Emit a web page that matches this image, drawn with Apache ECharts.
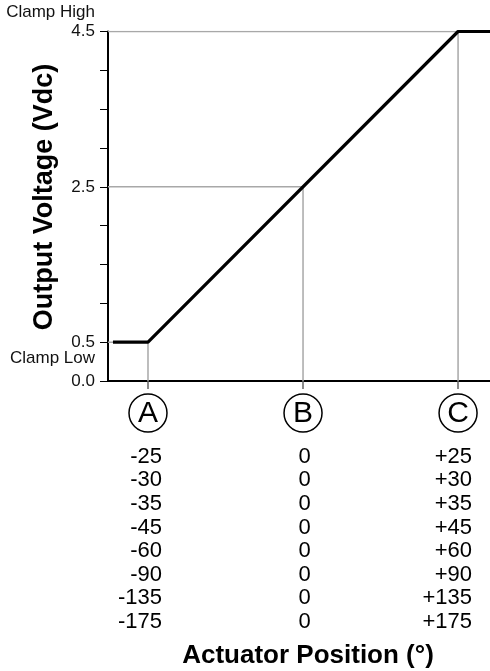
<!DOCTYPE html>
<html>
<head>
<meta charset="utf-8">
<script src="https://cdn.jsdelivr.net/npm/echarts@6/dist/echarts.min.js"></script>
<style>
html,body{margin:0;padding:0;background:#fff;}
#chart{width:490px;height:671px;}
</style>
</head>
<body>
<div id="chart"></div>
<script>
// ---- data ----
const xMin = -1.258, xMax = 1.206;
const pointPositions = [-1, 0, 1];
const pointLetters = ['A', 'B', 'C'];
const rowsA = ['-25', '-30', '-35', '-45', '-60', '-90', '-135', '-175'];
const rowsB = ['0', '0', '0', '0', '0', '0', '0', '0'];
const rowsC = ['+25', '+30', '+35', '+45', '+60', '+90', '+135', '+175'];
const yLabelValues = [0, 0.5, 2.5, 4.5];
const outputLine = [[-1.226, 0.5], [-1, 0.5], [1, 4.5], [1.206, 4.5]];
const guideLow = [[xMin, 0.5], [-1, 0.5], [-1, 0]];
const guideMid = [[xMin, 2.5], [0, 2.5], [0, 0]];
const guideHigh = [[xMin, 4.5], [1, 4.5], [1, 0]];
const yTitle = 'Output Voltage (Vdc)';
const xTitle = 'Actuator Position (°)';
const clampHigh = 'Clamp High';
const clampLow = 'Clamp Low';

const FONT = '"Liberation Sans", Arial, Helvetica, sans-serif';
const chart = echarts.init(document.getElementById('chart'), null, {renderer: 'canvas'});

function guide(data) {
  return {
    type: 'line', data: data, symbol: 'none', silent: true, z: 1,
    lineStyle: {color: '#a8a8a8', width: 1.5}, animation: false
  };
}

chart.setOption({
  backgroundColor: '#fff',
  animation: false,
  grid: {left: 108, right: 0, top: 31.5, bottom: 290, containLabel: false},
  xAxis: {
    type: 'value', min: xMin, max: xMax,
    axisLine: {show: true, onZero: false, lineStyle: {color: '#000', width: 2}},
    axisTick: {show: true, customValues: pointPositions, length: 8, lineStyle: {color: '#666', width: 1.5}},
    axisLabel: {show: false},
    splitLine: {show: false}
  },
  yAxis: {
    type: 'value', min: 0, max: 4.5, interval: 0.5,
    axisLine: {show: true, onZero: false, lineStyle: {color: '#000', width: 2}},
    axisTick: {show: true, length: 8, lineStyle: {color: '#000', width: 1}},
    axisLabel: {
      show: true, margin: 13, color: '#111', fontSize: 17, fontFamily: FONT,
      formatter: function (v) {
        for (const t of yLabelValues) if (Math.abs(t - v) < 1e-6) return v.toFixed(1);
        return '';
      }
    },
    splitLine: {show: false}
  },
  series: [
    guide(guideLow), guide(guideMid), guide(guideHigh),
    {
      type: 'line', data: outputLine, symbol: 'none', z: 5,
      lineStyle: {color: '#000', width: 3.2}
    }
  ]
});

const g = [];
const axisY = chart.convertToPixel({gridIndex: 0}, [0, 0])[1];
const rowH = 23.6;
pointPositions.forEach(function (p, i) {
  const px = chart.convertToPixel({gridIndex: 0}, [p, 0])[0];
  g.push({
    type: 'circle', shape: {cx: px, cy: axisY + 32, r: 19},
    style: {fill: '#fff', stroke: '#000', lineWidth: 1.5}
  });
  g.push({
    type: 'text', x: px, y: axisY + 33,
    style: {text: pointLetters[i], font: '30px ' + FONT, fill: '#000', textAlign: 'center', textVerticalAlign: 'middle'}
  });
  const rows = [rowsA, rowsB, rowsC][i];
  const align = i === 1 ? 'center' : 'right';
  const ox = i === 1 ? px + 1.5 : px + 14;
  g.push({
    type: 'text', x: ox, y: axisY + 64,
    style: {text: rows.join('\n'), font: '22px ' + FONT, fill: '#000', textAlign: align,
      textVerticalAlign: 'top', lineHeight: rowH}
  });
});
g.push({
  type: 'text', x: 45, y: 197, rotation: Math.PI / 2,
  style: {text: yTitle, font: 'bold 27px ' + FONT, fill: '#000', textAlign: 'center', textVerticalAlign: 'middle'}
});
g.push({
  type: 'text', x: 308, y: 656,
  style: {text: xTitle, font: 'bold 26px ' + FONT, fill: '#000', textAlign: 'center', textVerticalAlign: 'middle'}
});
g.push({
  type: 'text', x: 95, y: 12,
  style: {text: clampHigh, font: '17px ' + FONT, fill: '#111', textAlign: 'right', textVerticalAlign: 'middle'}
});
const lowY = chart.convertToPixel({gridIndex: 0}, [0, 0.5])[1];
g.push({
  type: 'text', x: 95, y: (lowY + axisY) / 2 - 3,
  style: {text: clampLow, font: '17px ' + FONT, fill: '#111', textAlign: 'right', textVerticalAlign: 'middle'}
});
chart.setOption({graphic: {elements: g}});
</script>
</body>
</html>
